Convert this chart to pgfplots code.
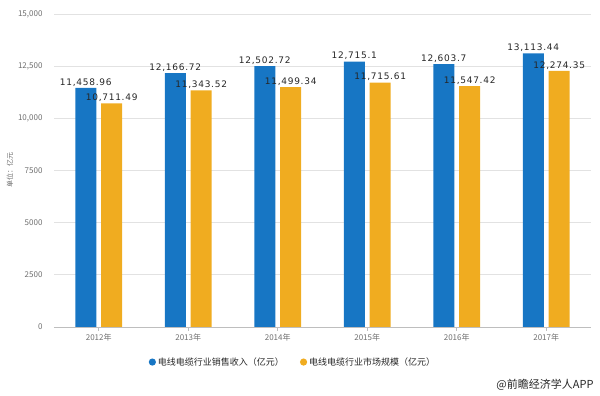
\documentclass[border=0pt]{standalone}
\usepackage{pgfplots}
\pgfplotsset{compat=1.18}
\usepackage{pgfplotstable}
\usepackage{fontspec}
\setmainfont{Noto Sans CJK SC}
\newfontfamily\labelfont[LetterSpace=8]{DejaVu Sans}
\definecolor{cblue}{RGB}{23,118,196}
\definecolor{corange}{RGB}{240,172,32}
\definecolor{tickgray}{RGB}{110,110,110}
\definecolor{gridgray}{RGB}{226,226,226}
\definecolor{axisgray}{RGB}{190,190,190}

\pgfplotstableread{
x y label
0 11458.96 11,458.96
1 12166.72 12,166.72
2 12502.72 12,502.72
3 12715.1 12,715.1
4 12603.7 12,603.7
5 13113.44 13,113.44
}\sales
\pgfplotstableread{
x y label
0 10711.49 10,711.49
1 11343.52 11,343.52
2 11499.34 11,499.34
3 11715.61 11,715.61
4 11547.42 11,547.42
5 12274.35 12,274.35
}\market

\begin{document}
\begin{tikzpicture}
\path[use as bounding box] (-54pt,-69pt) rectangle (546pt,327pt);
\begin{axis}[
  scale only axis, width=537pt, height=313pt,
  xmin=-0.5, xmax=5.5, ymin=0, ymax=15000,
  scaled y ticks=false,
  axis lines*=left,
  y axis line style={draw=none},
  x axis line style={axisgray, line width=0.8pt},
  xtick={0,1,2,3,4,5},
  xticklabels={2012年,2013年,2014年,2015年,2016年,2017年},
  ytick={0,2500,5000,7500,10000,12500,15000},
  yticklabels={0,2500,5000,7500,{10,000},{12,500},{15,000}},
  /pgf/number format/assume math mode=true,
  ymajorgrids, grid style={gridgray, line width=0.8pt},
  ytick style={draw=none},
  xtick style={axisgray, line width=0.6pt},
  tick align=outside, major tick length=4pt,
  yticklabel style={font=\fontsize{8}{9}\selectfont, text=tickgray, xshift=-4pt},
  xticklabel style={font=\fontsize{8}{9}\selectfont, text=tickgray, yshift=1pt},
  ylabel={单位：亿元},
  ylabel style={at={(axis description cs:-0.082,0.5)}, anchor=center, font=\fontsize{7}{8}\selectfont, text=tickgray},
  ybar, bar width=0.235,
  nodes near coords,
  point meta=explicit symbolic,
  every node near coord/.append style={font=\labelfont\fontsize{9}{10}\selectfont, text=black!85, inner sep=1.5pt},
  legend columns=2,
  legend style={at={(axis description cs:0.445,-0.112)}, anchor=center, draw=none, fill=none,
    font=\fontsize{9}{10}\selectfont, text=black!85, /tikz/every even column/.append style={column sep=14pt}},
  legend image code/.code={\fill[#1, draw=none] (0.25em,0) circle (3.6pt);},
]
\addplot[fill=cblue, draw=none, bar shift=-0.145] table[x=x, y=y, meta=label] {\sales};
\addlegendentry{电线电缆行业销售收入（亿元）}
\addplot[fill=corange, draw=none, bar shift=0.145] table[x=x, y=y, meta=label] {\market};
\addlegendentry{电线电缆行业市场规模（亿元）}
\end{axis}
\node[anchor=base east, font=\fontsize{11}{12}\selectfont, text=black!85] at (543pt,-62pt) {@前瞻经济学人APP};
\end{tikzpicture}
\end{document}
